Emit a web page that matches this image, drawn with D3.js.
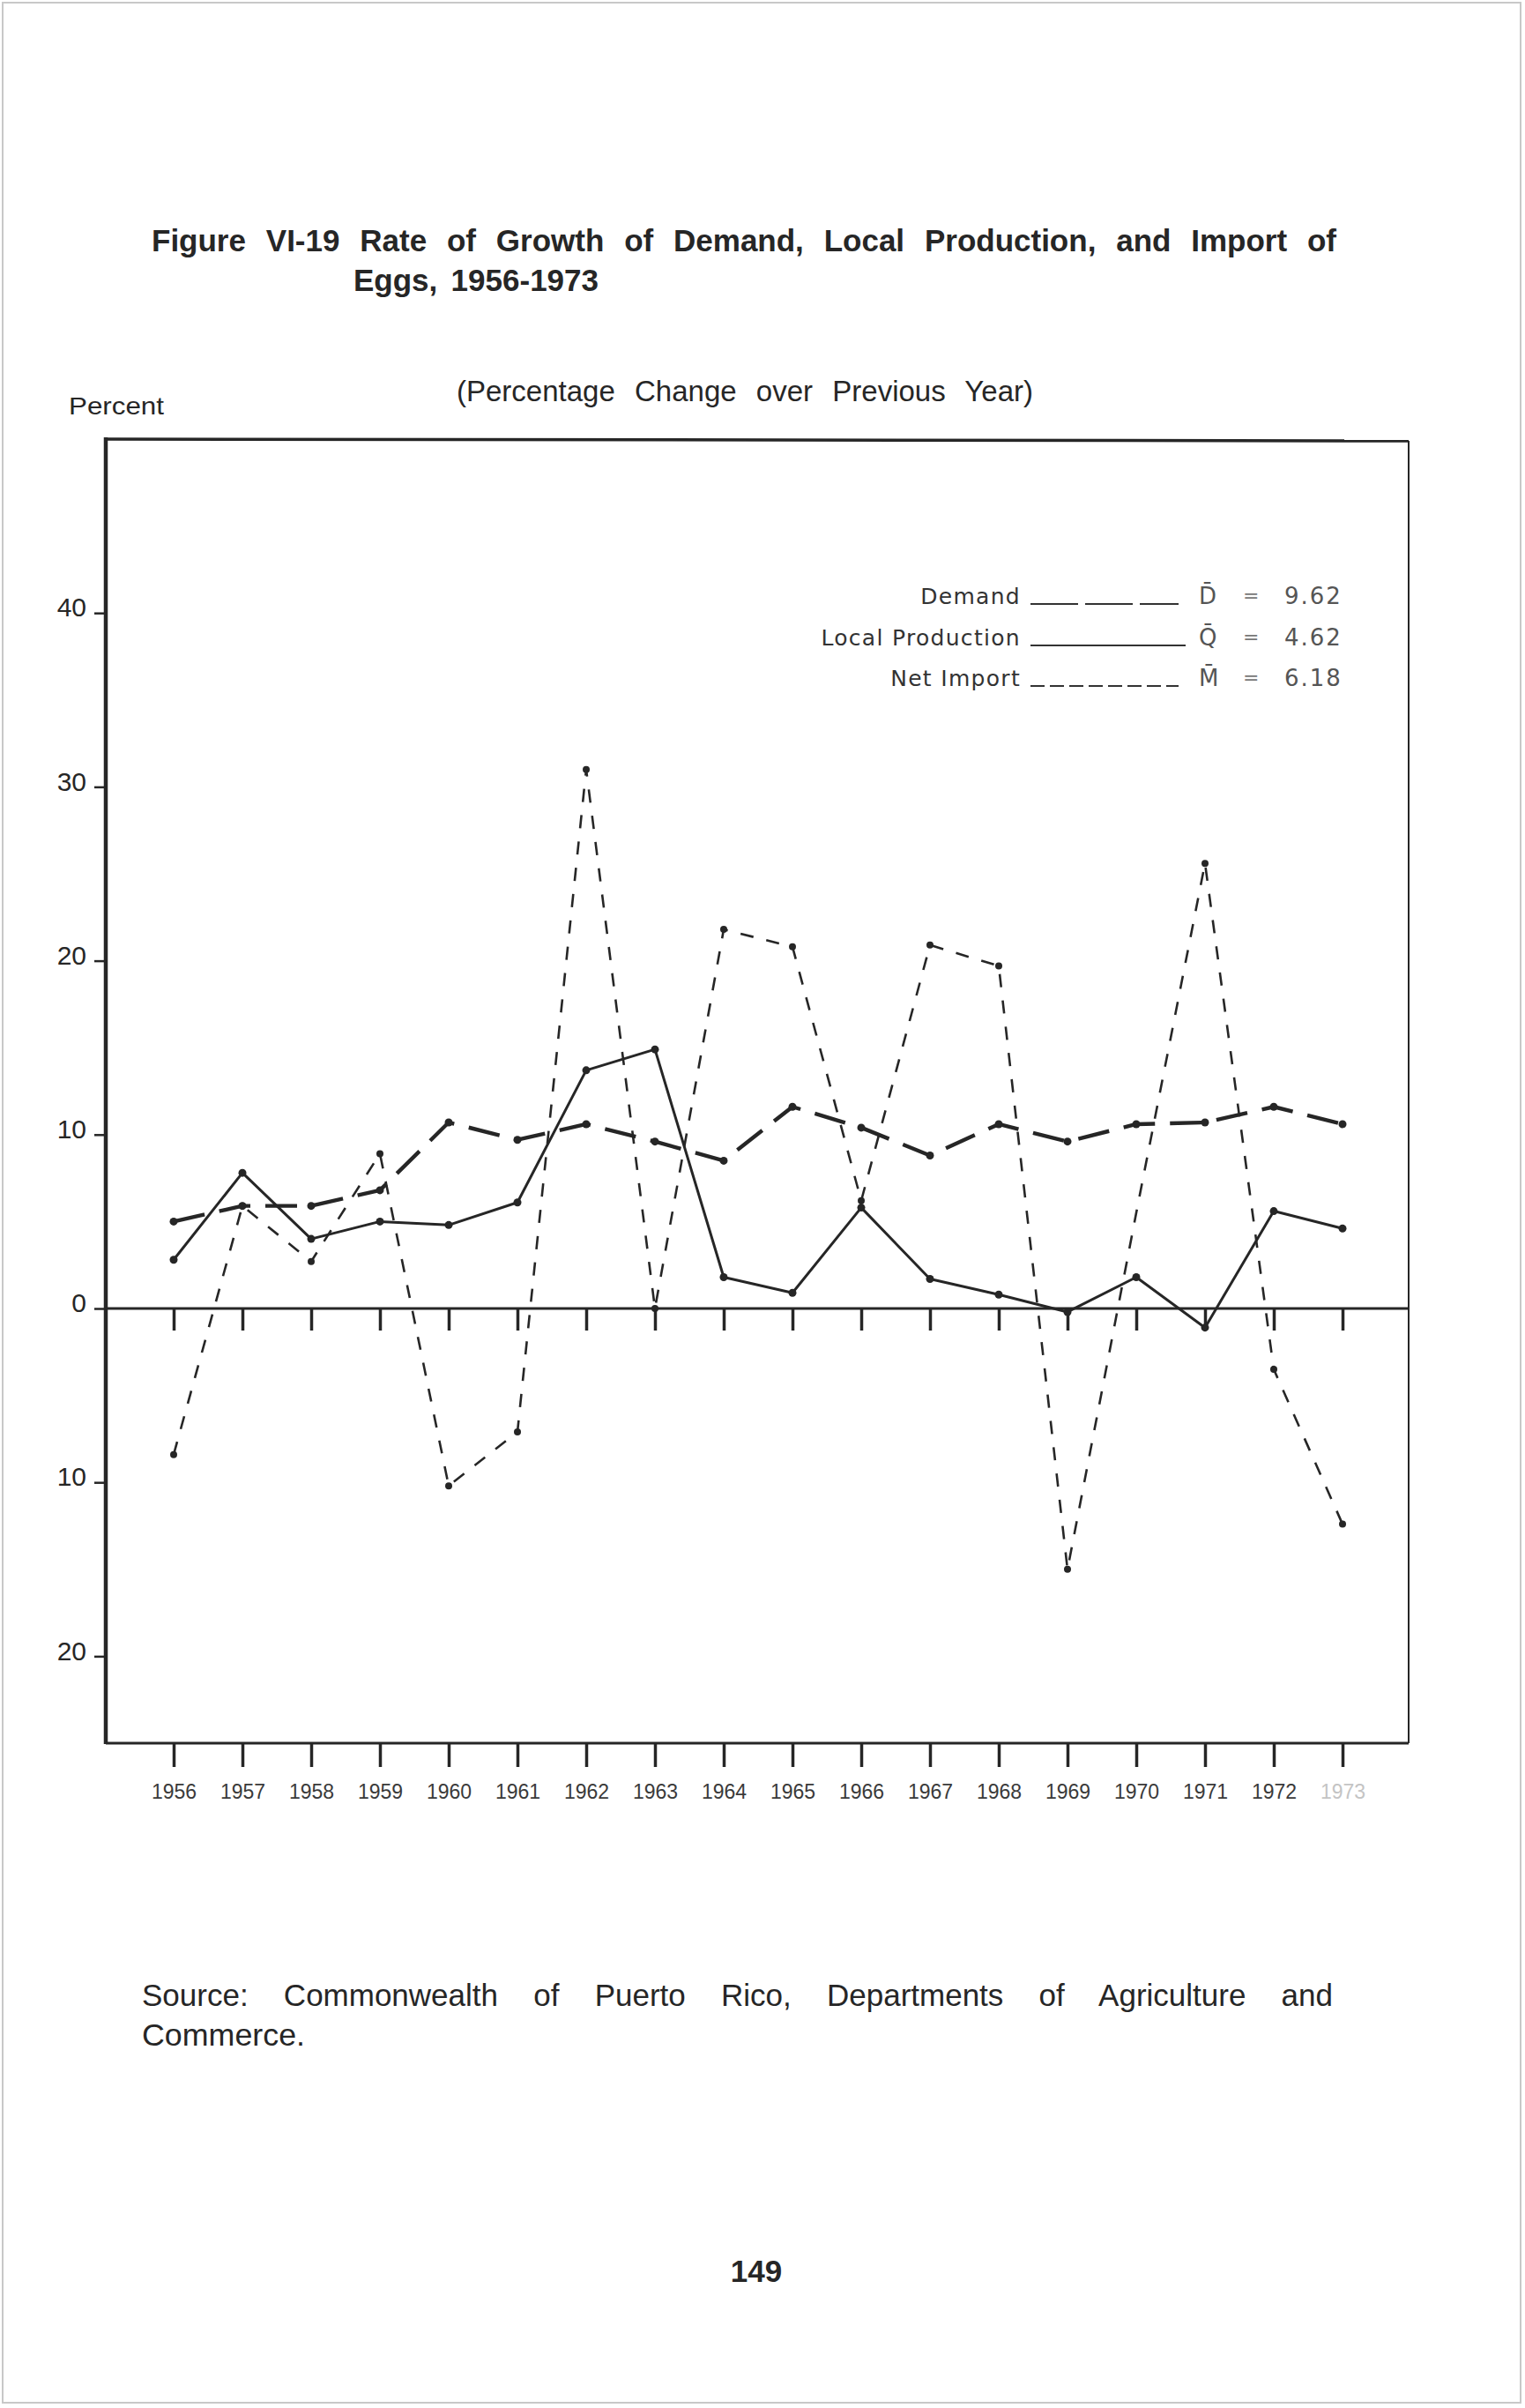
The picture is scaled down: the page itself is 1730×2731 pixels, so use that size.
<!DOCTYPE html>
<html lang="en">
  <head>
    <meta charset="utf-8" />
    <title>Figure VI-19 Eggs 1956-1973</title>
    <script src="https://d3js.org/d3.v7.min.js"></script>
    <style>
      body {
        margin: 0;
        background: #fff;
      }
      .narrow {
        font-family: "Liberation Sans Narrow", "Liberation Sans", Arial, sans-serif;
      }
      .yaxis .domain,
      .xaxis .domain,
      .zeroticks .domain {
        display: none;
      }
    </style>
  </head>

  <body>
    <svg id="page" width="1730" height="2731"></svg>

    <script>
      // values (percent change over previous year)
      const years = [
        1956, 1957, 1958, 1959, 1960, 1961, 1962, 1963, 1964, 1965, 1966,
        1967, 1968, 1969, 1970, 1971, 1972, 1973,
      ];
      const demand = [
        5.0, 5.9, 5.9, 6.8, 10.7, 9.7, 10.6, 9.6, 8.5, 11.6, 10.4, 8.8, 10.6,
        9.6, 10.6, 10.7, 11.6, 10.6,
      ];
      const localProduction = [
        2.8, 7.8, 4.0, 5.0, 4.8, 6.1, 13.7, 14.9, 1.8, 0.9, 5.8, 1.7, 0.8,
        -0.2, 1.8, -1.1, 5.6, 4.6,
      ];
      const netImport = [
        -8.4, 5.9, 2.7, 8.9, -10.2, -7.1, 31.0, 0.0, 21.8, 20.8, 6.2, 20.9,
        19.7, -15.0, 5.5, 25.6, -3.5, -12.4,
      ];
      const yTicks = [40, 30, 20, 10, 0, -10, -20];
      const legendNames = ["Demand", "Local Production", "Net Import"];
      const legendSymbols = ["D\u0304", "Q\u0304", "M\u0304"];
      const legendMeans = ["9.62", "4.62", "6.18"];

      const svg = d3.select("svg#page");
      const ink = "#262626";

      // page edge from the scan
      svg
        .append("rect")
        .attr("x", 3)
        .attr("y", 3)
        .attr("width", 1722)
        .attr("height", 2722)
        .attr("fill", "none")
        .attr("stroke", "#c8c8c8")
        .attr("stroke-width", 2);

      // spread words so a line fills a given width
      function fit(sel, target) {
        const node = sel.node();
        const len = node.getComputedTextLength();
        const spaces = (node.textContent.match(/ /g) || []).length;
        if (len < target && spaces > 0) {
          sel.attr("word-spacing", (target - len) / spaces);
        } else {
          sel.attr("textLength", target).attr("lengthAdjust", "spacingAndGlyphs");
        }
      }

      const title1 = svg
        .append("text")
        .attr("class", "narrow")
        .attr("x", 172)
        .attr("y", 285)
        .attr("font-size", "35px")
        .attr("font-weight", "bold")
        .attr("fill", ink)
        .text("Figure VI-19 Rate of Growth of Demand, Local Production, and Import of");
      fit(title1, 1344);

      const title2 = svg
        .append("text")
        .attr("class", "narrow")
        .attr("x", 401)
        .attr("y", 330)
        .attr("font-size", "35px")
        .attr("font-weight", "bold")
        .attr("fill", ink)
        .text("Eggs, 1956-1973");
      fit(title2, 278);

      const subtitle = svg
        .append("text")
        .attr("class", "narrow")
        .attr("x", 518)
        .attr("y", 455)
        .attr("font-size", "33px")
        .attr("fill", ink)
        .text("(Percentage Change over Previous Year)");
      fit(subtitle, 654);

      const percent = svg
        .append("text")
        .attr("class", "narrow")
        .attr("x", 78)
        .attr("y", 470)
        .attr("font-size", "28px")
        .attr("fill", ink)
        .text("Percent");
      fit(percent, 108);

      // chart frame
      const plotLeft = 120,
        plotRight = 1598,
        plotTop = 498,
        plotBottom = 1977;

      const x = d3.scaleLinear().domain([1956, 1973]).range([197, 1523]);
      const y = d3.scaleLinear().domain([-25, 50]).range([plotBottom, plotTop]);

      svg
        .append("line")
        .attr("x1", plotLeft)
        .attr("x2", plotRight)
        .attr("y1", plotTop)
        .attr("y2", plotTop + 2)
        .attr("stroke", ink)
        .attr("stroke-width", 3.5);
      svg
        .append("line")
        .attr("x1", plotRight)
        .attr("x2", plotRight)
        .attr("y1", plotTop + 2)
        .attr("y2", plotBottom)
        .attr("stroke", ink)
        .attr("stroke-width", 2);
      svg
        .append("line")
        .attr("x1", plotLeft)
        .attr("x2", plotRight)
        .attr("y1", plotBottom)
        .attr("y2", plotBottom)
        .attr("stroke", ink)
        .attr("stroke-width", 3);
      svg
        .append("line")
        .attr("x1", plotLeft)
        .attr("x2", plotLeft)
        .attr("y1", plotTop - 2)
        .attr("y2", plotBottom + 1)
        .attr("stroke", ink)
        .attr("stroke-width", 4.5);

      // y axis
      const yAxisG = svg
        .append("g")
        .attr("class", "yaxis")
        .attr("transform", `translate(${plotLeft},0)`)
        .call(
          d3
            .axisLeft(y)
            .tickValues(yTicks)
            .tickSize(13)
            .tickPadding(9)
            .tickFormat(d => Math.abs(d))
        );
      yAxisG.selectAll("line").attr("stroke", ink).attr("stroke-width", 2.5);
      yAxisG
        .selectAll("text")
        .attr("dy", "0.12em")
        .attr("fill", ink)
        .style("font-family", "'Liberation Sans', Arial, sans-serif")
        .style("font-size", "30px");

      // zero line with its year ticks
      svg
        .append("line")
        .attr("x1", plotLeft)
        .attr("x2", plotRight)
        .attr("y1", y(0))
        .attr("y2", y(0))
        .attr("stroke", ink)
        .attr("stroke-width", 3);
      const zeroG = svg
        .append("g")
        .attr("class", "zeroticks")
        .attr("transform", `translate(0,${y(0)})`)
        .call(d3.axisBottom(x).tickValues(years).tickSize(25).tickFormat(""));
      zeroG.selectAll("line").attr("stroke", ink).attr("stroke-width", 3.5);

      // bottom year axis
      const xAxisG = svg
        .append("g")
        .attr("class", "xaxis")
        .attr("transform", `translate(0,${plotBottom})`)
        .call(
          d3
            .axisBottom(x)
            .tickValues(years)
            .tickSize(27)
            .tickPadding(20)
            .tickFormat(d => String(d))
        );
      xAxisG.selectAll("line").attr("stroke", ink).attr("stroke-width", 3.5);
      xAxisG
        .selectAll("text")
        .attr("fill", d => (d === 1973 ? "#c4c4c4" : "#3a3a3a"))
        .style("font-family", "'Liberation Sans', Arial, sans-serif")
        .style("font-size", "23px");

      // series
      const series = [
        { name: "demand", values: demand, width: 4.4, dash: "36,17", r: 4.5 },
        { name: "local", values: localProduction, width: 3, dash: null, r: 4.5 },
        { name: "import", values: netImport, width: 2.6, dash: "15,15", r: 4 },
      ];

      const line = d3
        .line()
        .x((d, i) => x(years[i]))
        .y(d => y(d));

      series.forEach(s => {
        svg
          .append("path")
          .datum(s.values)
          .attr("fill", "none")
          .attr("stroke", ink)
          .attr("stroke-width", s.width)
          .attr("stroke-dasharray", s.dash)
          .attr("stroke-linejoin", "round")
          .attr("d", line);

        // the 1969-1971 import segment has no vertex mark in the original
        svg
          .selectAll(`circle.${s.name}`)
          .data(s.values.map((v, i) => ({ v, yr: years[i] })))
          .join("circle")
          .attr("class", s.name)
          .attr("cx", d => x(d.yr))
          .attr("cy", d => y(d.v))
          .attr("r", d => (s.name === "import" && d.yr === 1970 ? 0 : s.r))
          .attr("fill", ink);
      });

      // legend
      const legendRows = [685, 732, 778];
      const sampleEnd = [1337, 1345, 1337];
      const sampleDash = ["54,8", null, "16,6"];

      const legend = svg.append("g").attr("id", "legend");
      legendNames.forEach((name, i) => {
        legend
          .append("text")
          .attr("x", 1158)
          .attr("y", legendRows[i])
          .attr("text-anchor", "end")
          .attr("fill", "#333")
          .style("font-family", "'DejaVu Sans', sans-serif")
          .style("font-size", "25px")
          .style("letter-spacing", "1.3px")
          .text(name);
        legend
          .append("line")
          .attr("x1", 1169)
          .attr("x2", sampleEnd[i])
          .attr("y1", legendRows[i])
          .attr("y2", legendRows[i])
          .attr("stroke", "#333")
          .attr("stroke-width", 2)
          .attr("stroke-dasharray", sampleDash[i]);
        legend
          .append("text")
          .attr("x", 1360)
          .attr("y", legendRows[i])
          .attr("fill", "#555")
          .style("font-family", "'DejaVu Sans', sans-serif")
          .style("font-size", "26px")
          .text(legendSymbols[i]);
        legend
          .append("text")
          .attr("x", 1410)
          .attr("y", legendRows[i] - 2)
          .attr("fill", "#777")
          .style("font-family", "'DejaVu Sans', sans-serif")
          .style("font-size", "22px")
          .text("=");
        legend
          .append("text")
          .attr("x", 1457)
          .attr("y", legendRows[i])
          .attr("fill", "#555")
          .style("font-family", "'DejaVu Sans', sans-serif")
          .style("font-size", "26px")
          .style("letter-spacing", "2px")
          .text(legendMeans[i]);
      });

      // source note and page number
      const source1 = svg
        .append("text")
        .attr("class", "narrow")
        .attr("x", 161)
        .attr("y", 2275)
        .attr("font-size", "35px")
        .attr("fill", ink)
        .text("Source: Commonwealth of Puerto Rico, Departments of Agriculture and");
      fit(source1, 1351);

      const source2 = svg
        .append("text")
        .attr("class", "narrow")
        .attr("x", 161)
        .attr("y", 2320)
        .attr("font-size", "35px")
        .attr("fill", ink)
        .text("Commerce.");
      fit(source2, 185);

      svg
        .append("text")
        .attr("class", "narrow")
        .attr("x", 858)
        .attr("y", 2588)
        .attr("text-anchor", "middle")
        .attr("font-size", "35px")
        .attr("font-weight", "bold")
        .attr("fill", ink)
        .text("149");
    </script>
  </body>
</html>
